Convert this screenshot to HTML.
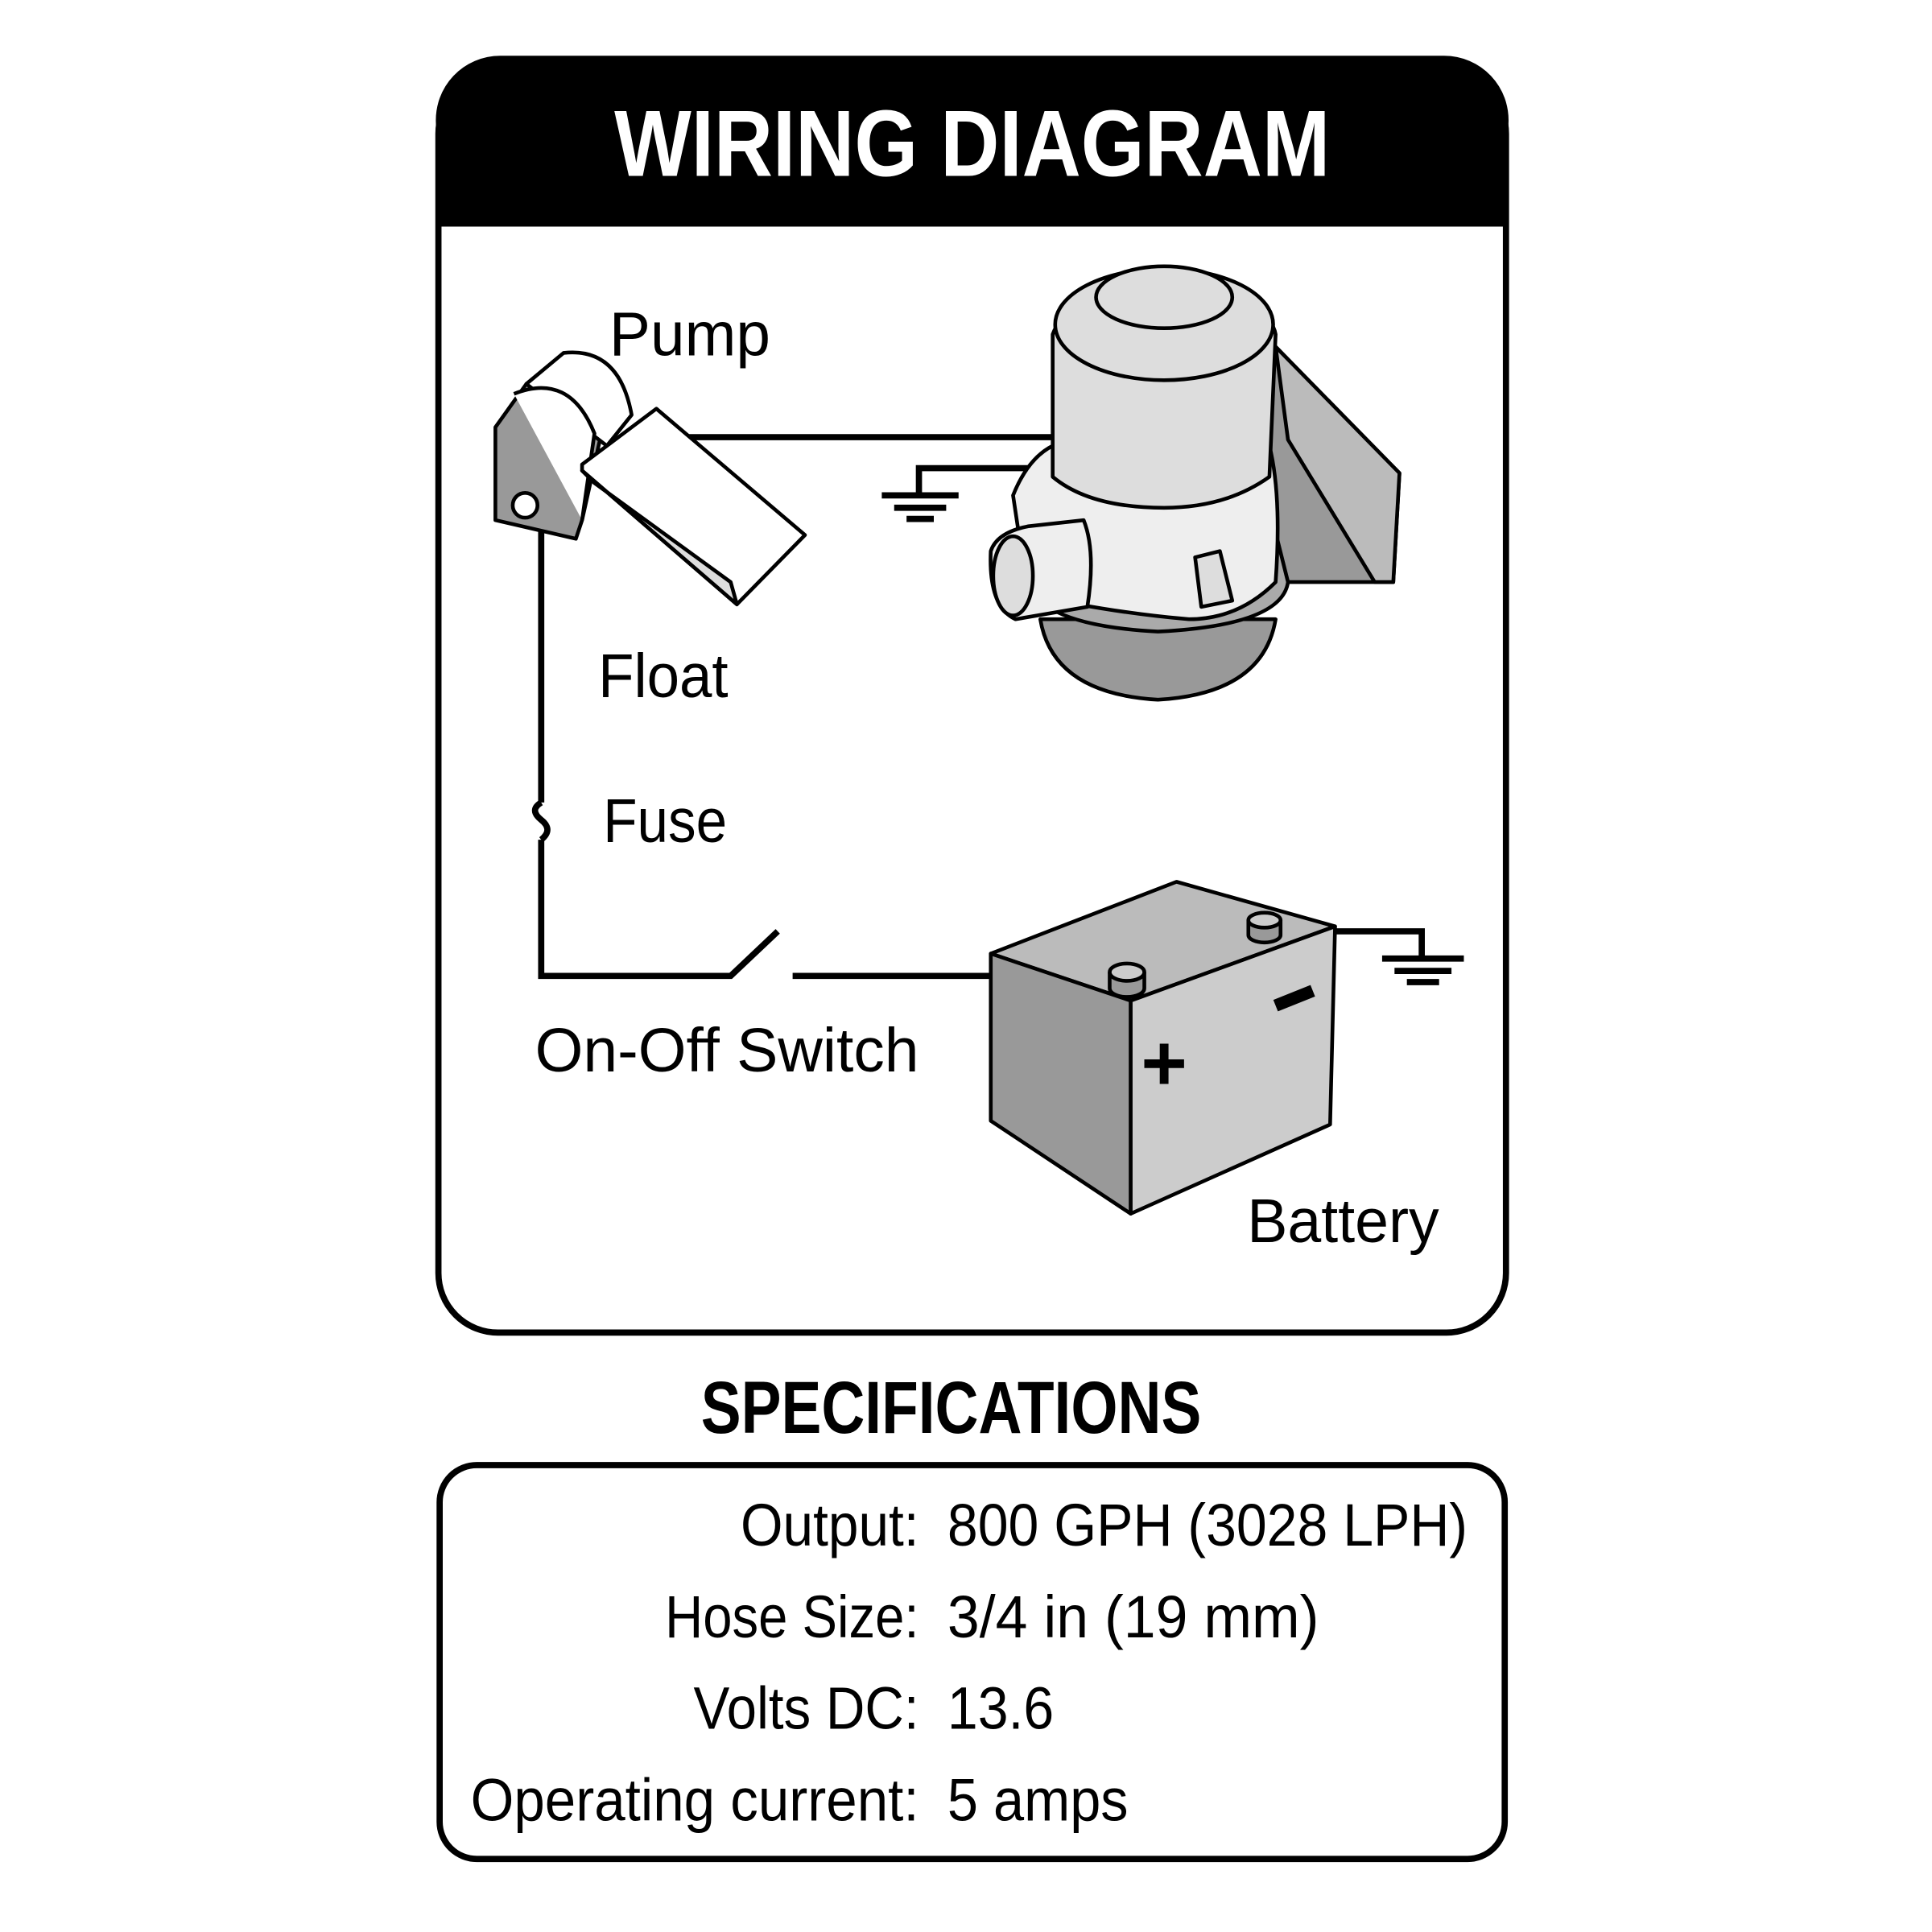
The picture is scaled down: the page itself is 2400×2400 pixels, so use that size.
<!DOCTYPE html>
<html><head><meta charset="utf-8"><style>html,body{margin:0;padding:0;background:#fff}svg{display:block}</style></head>
<body>
<svg width="2400" height="2400" viewBox="0 0 1560 1560" xmlns="http://www.w3.org/2000/svg" font-family="Liberation Sans, sans-serif">
<rect width="1560" height="1560" fill="#fff"/>
<path d="M352,100 a52,52 0 0 1 52,-55 H1166 a52,52 0 0 1 52,55 V183 H352 Z" fill="#000"/>
<rect x="354" y="60" width="862" height="1016" rx="48" fill="none" stroke="#000" stroke-width="5"/>
<text x="785" y="142" font-size="76" font-weight="bold" text-anchor="middle" fill="#fff" textLength="578" lengthAdjust="spacingAndGlyphs">WIRING DIAGRAM</text>

<g stroke="#000" stroke-width="5" fill="none">
<line x1="550" y1="353" x2="852" y2="353"/>
<polyline points="742,400 742,378 850,378"/>
<line x1="712" y1="400" x2="774" y2="400"/><line x1="722" y1="410" x2="764" y2="410"/><line x1="732" y1="419" x2="754" y2="419"/>
<polyline points="437,418 437,648"/>
<path d="M437,648 q-10,6 0,14 q10,8 0,16 "/>
<polyline points="437,678 437,788 590,788 628,752"/>
<line x1="640" y1="788" x2="900" y2="788"/>
<polyline points="1078,752 1148,752 1148,774"/>
<line x1="1116" y1="774" x2="1182" y2="774"/><line x1="1126" y1="784" x2="1172" y2="784"/><line x1="1136" y1="793" x2="1162" y2="793"/>
</g>

<g stroke="#000" stroke-width="3" stroke-linejoin="round">
<path d="M400,345 L425,310 Q470,300 490,330 L470,420 L465,435 L400,420 Z" fill="#999"/>
<path d="M425,310 L455,285 Q500,280 510,335 L490,360 Z" fill="#fff"/>
<path d="M415,318 Q460,300 480,350 L470,420" fill="#fff"/>
<path d="M470,375 L530,330 L650,432 L595,488 L470,380 Z" fill="#fff"/>
<path d="M470,380 L595,488 L590,470 L480,390 Z" fill="#ddd"/>
<circle cx="424" cy="408" r="10" fill="#fff"/>
</g>

<g stroke="#000" stroke-width="3" stroke-linejoin="round">
<path d="M1030,280 L1130,382 L1125,470 L1015,470 Z" fill="#999"/>
<path d="M1030,280 L1040,355 L1110,470 L1125,470 L1130,382 Z" fill="#bbb"/>
<path d="M840,500 Q850,560 935,565 Q1020,560 1030,500 Z" fill="#999"/>
<path d="M830,470 Q840,505 935,510 Q1035,505 1040,470 L1030,430 L840,430 Z" fill="#aaa"/>
<path d="M818,400 Q830,370 850,360 L1025,360 Q1035,400 1030,470 Q1000,500 960,500 Q900,495 830,480 Z" fill="#eee"/>
<path d="M850,270 Q860,240 940,235 Q1025,240 1030,270 L1025,385 Q990,410 940,410 Q880,410 850,385 Z" fill="#ddd"/>
<ellipse cx="940" cy="262" rx="88" ry="45" fill="#ddd"/>
<ellipse cx="940" cy="240" rx="55" ry="25" fill="#ddd"/>
<path d="M800,445 Q805,430 830,425 L875,420 Q885,445 878,490 L820,500 Q798,490 800,445 Z" fill="#eee"/>
<ellipse cx="818" cy="465" rx="16" ry="32" fill="#ddd"/>
<path d="M965,450 L985,445 L995,485 L970,490 Z" fill="#ddd"/>
</g>

<g stroke="#000" stroke-width="3" stroke-linejoin="round">
<polygon points="800,770 950,712 1078,748 913,808" fill="#bbb"/>
<polygon points="800,770 913,808 913,980 800,905" fill="#999"/>
<polygon points="913,808 1078,748 1074,908 913,980" fill="#ccc"/>
<path d="M896,785 v13 a14,7 0 0 0 28,0 v-13" fill="#999"/><ellipse cx="910" cy="785" rx="14" ry="7" fill="#ccc"/>
<path d="M1008,743 v12 a13,6 0 0 0 26,0 v-12" fill="#999"/><ellipse cx="1021" cy="743" rx="13" ry="6" fill="#ccc"/>
</g>
<text x="940" y="880" font-size="64" font-weight="bold" text-anchor="middle">+</text>
<line x1="1030" y1="812" x2="1060" y2="800" stroke="#000" stroke-width="10"/>

<g font-size="50" fill="#000">
<text x="492" y="287" textLength="130" lengthAdjust="spacingAndGlyphs">Pump</text>
<text x="483" y="563" textLength="105" lengthAdjust="spacingAndGlyphs">Float</text>
<text x="487" y="680" textLength="100" lengthAdjust="spacingAndGlyphs">Fuse</text>
<text x="432" y="865" textLength="310" lengthAdjust="spacingAndGlyphs">On-Off Switch</text>
<text x="1007" y="1003" textLength="155" lengthAdjust="spacingAndGlyphs">Battery</text>
</g>

<text x="768" y="1157" font-size="60" font-weight="bold" text-anchor="middle" textLength="404" lengthAdjust="spacingAndGlyphs">SPECIFICATIONS</text>
<rect x="355" y="1183" width="860" height="318" rx="30" fill="none" stroke="#000" stroke-width="5"/>
<g font-size="48" fill="#000">
<text x="598" y="1248" textLength="144" lengthAdjust="spacingAndGlyphs">Output:</text>
<text x="537" y="1322" textLength="205" lengthAdjust="spacingAndGlyphs">Hose Size:</text>
<text x="560" y="1396" textLength="182" lengthAdjust="spacingAndGlyphs">Volts DC:</text>
<text x="380" y="1470" textLength="362" lengthAdjust="spacingAndGlyphs">Operating current:</text>
<text x="765" y="1248" textLength="420" lengthAdjust="spacingAndGlyphs">800 GPH (3028 LPH)</text>
<text x="765" y="1322" textLength="300" lengthAdjust="spacingAndGlyphs">3/4 in (19 mm)</text>
<text x="765" y="1396" textLength="86" lengthAdjust="spacingAndGlyphs">13.6</text>
<text x="765" y="1470" textLength="146" lengthAdjust="spacingAndGlyphs">5 amps</text>
</g>
</svg>
</body></html>
